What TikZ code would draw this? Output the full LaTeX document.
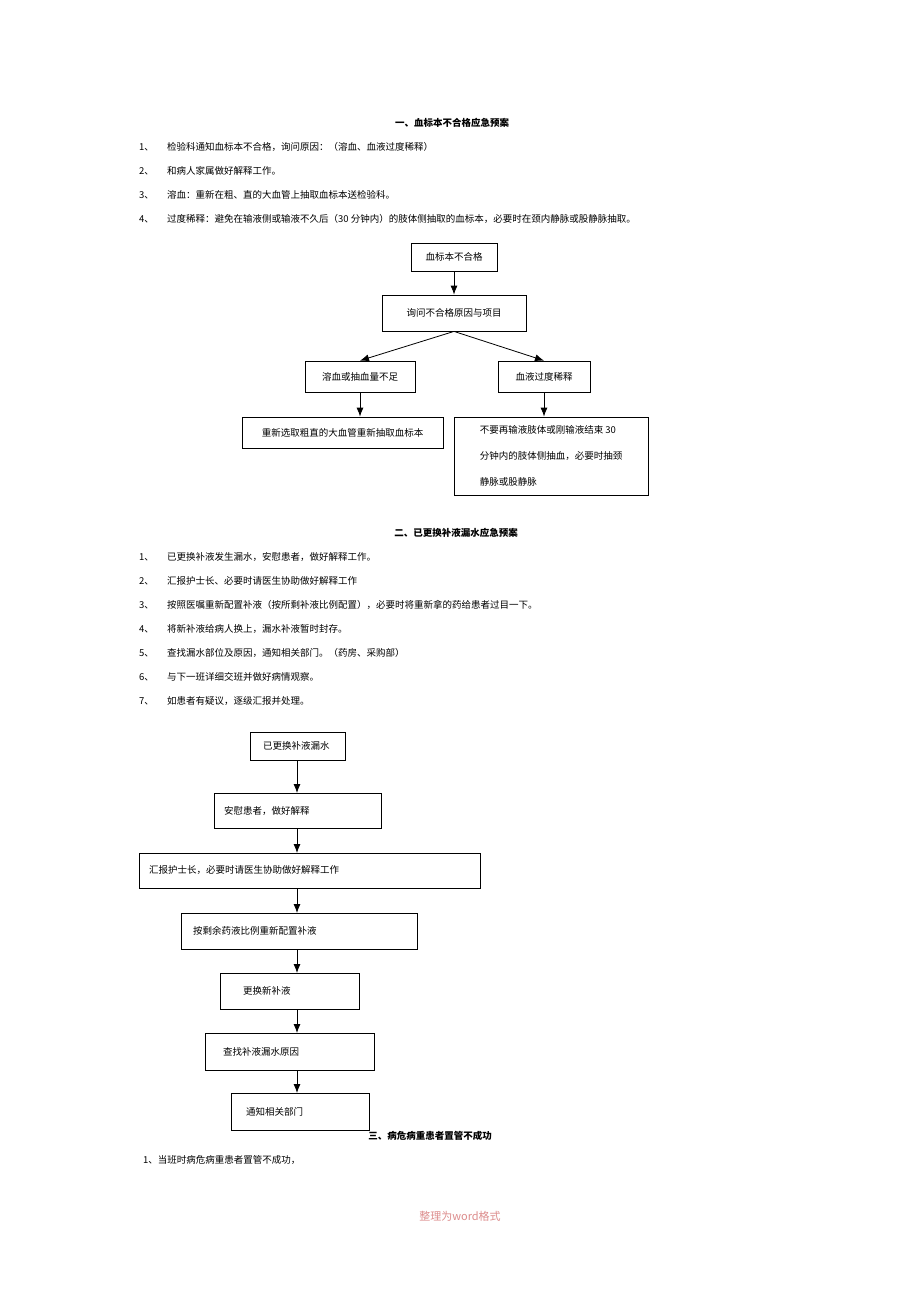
\documentclass[tikz,border=0pt]{standalone}
\usepackage{fontspec}
\setmainfont{Liberation Serif}
\newfontfamily\cjk{Noto Sans CJK SC}
\usetikzlibrary{arrows.meta,positioning}
\definecolor{footred}{RGB}{220,140,140}
\begin{document}
\begin{tikzpicture}[x=1pt,y=-1pt,font=\cjk\fontsize{9.5}{11}\selectfont,box/.style={draw,thick,minimum height=28pt,inner sep=0},txt/.style={anchor=west,inner sep=0},>={Latex[length=9pt,width=7pt]}]
\useasboundingbox (0,0) rectangle (920,1302);

% Text section 1
\node[font=\cjk\bfseries\fontsize{9.5}{11}\selectfont] (t1) at (452,123) {一、血标本不合格应急预案};
\foreach \n/\y/\s in {1/147/检验科通知血标本不合格，询问原因：（溶血、血液过度稀释）,2/171/和病人家属做好解释工作。,3/195/溶血：重新在粗、直的大血管上抽取血标本送检验科。,4/219/过度稀释：避免在输液侧或输液不久后（30 分钟内）的肢体侧抽取的血标本，必要时在颈内静脉或股静脉抽取。}
{\node[txt] (n\n) at (139,\y) {\n、};
 \node[txt] (s\n) at (167,\y) {\s};}

% Nodes 1
\node[box,minimum width=86pt] (b1) at (454,257) {血标本不合格};
\node[box,minimum width=144pt,minimum height=36pt] (b2) at (454,313) {询问不合格原因与项目};
\node[box,minimum width=110pt,minimum height=31pt] (b3) at (360,376.5) {溶血或抽血量不足};
\node[box,minimum width=92pt,minimum height=31pt] (b4) at (544,376.5) {血液过度稀释};
\node[box,minimum width=201pt,minimum height=31pt] (b5) at (342.5,432.5) {重新选取粗直的大血管重新抽取血标本};
\node[box,minimum width=194pt,minimum height=78pt,align=left,font=\cjk\fontsize{9.5}{26}\selectfont] (b6) at (551,456) {不要再输液肢体或刚输液结束 30\\分钟内的肢体侧抽血，必要时抽颈\\静脉或股静脉};

%arcs
\path (b1) edge[thick,->] (b2);
\path (b2.south) edge[thick,->] (b3.north);
\path (b2.south) edge[thick,->] (b4.north);
\path (b3.south) edge[thick,->] (b3.south |- b5.north);
\path (b4.south) edge[thick,->] (b4.south |- b6.north);

% Text section 2
\node[font=\cjk\bfseries\fontsize{9.5}{11}\selectfont] (t2) at (456,533) {二、已更换补液漏水应急预案};
\foreach \n/\y/\s in {1/557/已更换补液发生漏水，安慰患者，做好解释工作。,2/581/汇报护士长、必要时请医生协助做好解释工作,3/605/按照医嘱重新配置补液（按所剩补液比例配置），必要时将重新拿的药给患者过目一下。,4/629/将新补液给病人换上，漏水补液暂时封存。,5/653/查找漏水部位及原因，通知相关部门。（药房、采购部）,6/677/与下一班详细交班并做好病情观察。,7/701/如患者有疑议，逐级汇报并处理。}
{\node[txt] (m\n) at (139,\y) {\n、};
 \node[txt] (r\n) at (167,\y) {\s};}

% Nodes 2
\foreach \i/\xa/\ya/\xb/\yb/\tx/\s in {1/250/732/345/760/263/已更换补液漏水,2/214/793/381/828/224/安慰患者，做好解释,3/139/853/480/888/149/汇报护士长，必要时请医生协助做好解释工作,4/181/913/417/949/193/按剩余药液比例重新配置补液,5/220/973/359/1009/243/更换新补液,6/205/1033/374/1070/223/查找补液漏水原因,7/231/1093/369/1130/246/通知相关部门}
{\draw[thick] (\xa,\ya) rectangle (\xb,\yb);
 \node[txt] (c\i) at (\tx,{(\ya+\yb)/2}) {\s};}
\foreach \a/\b in {760/793,828/853,888/913,949/973,1009/1033,1070/1093}
 \draw[thick,->] (297,\a) -- (297,\b);

% Text section 3
\node[font=\cjk\bfseries\fontsize{9.5}{11}\selectfont] (t3) at (430,1136) {三、病危病重患者置管不成功};
\node[txt] (u1) at (143,1160) {1、当班时病危病重患者置管不成功，};
\node[font=\cjk\fontsize{11}{13}\selectfont,text=footred] (foot) at (460,1216) {整理为word格式};
\end{tikzpicture}
\end{document}
